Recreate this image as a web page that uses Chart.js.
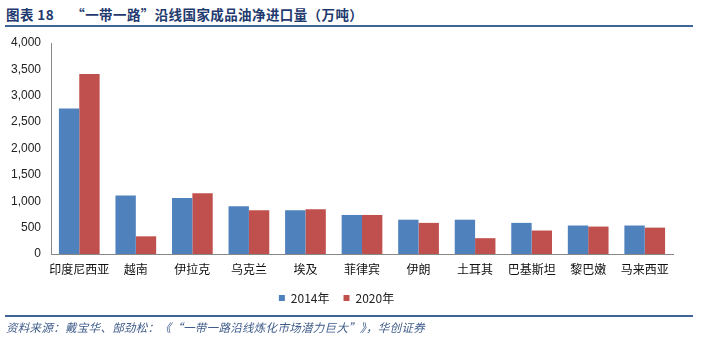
<!DOCTYPE html>
<html lang="zh">
<head>
    <meta charset="UTF-8">
    <title>"一带一路"沿线国家成品油净进口量</title>
    <script src="https://cdn.jsdelivr.net/npm/chart.js"></script>
    <style>
        body {
            margin: 0;
            background: #ffffff;
            font-family: "Noto Sans CJK SC", "Liberation Sans", sans-serif;
        }

        .page {
            position: relative;
            width: 701px;
            height: 345px;
            overflow: hidden;
        }

        .title {
            position: absolute;
            left: 6px;
            top: 4px;
            font-size: 13.5px;
            letter-spacing: 0.4px;
            font-weight: bold;
            color: #1f3a6e;
            white-space: pre;
        }

        .rule {
            position: absolute;
            left: 5px;
            width: 688px;
            height: 2px;
            background: #3f6496;
        }

        .source {
            position: absolute;
            left: 6px;
            top: 319px;
            font-size: 11.5px;
            letter-spacing: 0.3px;
            font-style: italic;
            color: #3f5c8a;
        }

        #chart-box {
            position: absolute;
            left: 0;
            top: 0;
            width: 701px;
            height: 345px;
        }
    </style>
</head>
<body>

<div class="page">
    <div class="title">图表 18     “一带一路”沿线国家成品油净进口量（万吨）</div>
    <div class="rule" style="top: 25px;"></div>
    <div id="chart-box">
        <canvas id="importChart"></canvas>
    </div>
    <div class="rule" style="top: 315px;"></div>
    <div class="source">资料来源：戴宝华、郜劲松：《“一带一路沿线炼化市场潜力巨大”》，华创证券</div>
</div>

<script>
    // Countries and net imports (10k tonnes)
    const countries = ['印度尼西亚', '越南', '伊拉克', '乌克兰', '埃及', '菲律宾', '伊朗', '土耳其', '巴基斯坦', '黎巴嫩', '马来西亚'];
    const imports2014 = [2760, 1110, 1060, 905, 830, 740, 650, 650, 590, 540, 540];
    const imports2020 = [3410, 335, 1150, 830, 850, 740, 590, 300, 445, 520, 500];
    const yTicks = [0, 500, 1000, 1500, 2000, 2500, 3000, 3500, 4000];

    const ctx = document.getElementById('importChart').getContext('2d');
    new Chart(ctx, {
        type: 'bar',
        data: {
            labels: countries,
            datasets: [
                {
                    label: '2014年',
                    data: imports2014,
                    backgroundColor: '#4f81bd'
                },
                {
                    label: '2020年',
                    data: imports2020,
                    backgroundColor: '#c0504d'
                }
            ]
        },
        options: {
            responsive: true,
            maintainAspectRatio: false,
            animation: false,
            layout: {
                padding: { left: 0, right: 28, top: 43, bottom: 31 }
            },
            datasets: {
                bar: {
                    categoryPercentage: 0.72,
                    barPercentage: 1.0
                }
            },
            plugins: {
                legend: {
                    position: 'bottom',
                    labels: {
                        boxWidth: 6,
                        boxHeight: 6,
                        padding: 14,
                        color: '#222',
                        font: { size: 12, family: '"Noto Sans CJK SC", "Liberation Sans", sans-serif' }
                    }
                },
                tooltip: { enabled: false }
            },
            scales: {
                x: {
                    grid: { display: false, drawTicks: false },
                    border: { color: '#888', width: 1 },
                    ticks: {
                        color: '#111',
                        padding: 8,
                        maxRotation: 0,
                        autoSkip: false,
                        font: { size: 12, family: '"Noto Sans CJK SC", sans-serif' }
                    },
                    afterFit: (scale) => { scale.height = 24; }
                },
                y: {
                    min: 0,
                    max: 4000,
                    afterBuildTicks: (scale) => {
                        scale.ticks = yTicks.map(v => ({ value: v }));
                    },
                    grid: { display: false, drawTicks: false },
                    border: { color: '#888', width: 1 },
                    ticks: {
                        color: '#222',
                        padding: 10,
                        font: { size: 12, family: '"Liberation Sans", Arial, sans-serif' },
                        callback: (v) => v.toLocaleString('en-US')
                    },
                    afterFit: (scale) => { scale.width = 51; }
                }
            }
        }
    });
</script>

</body>
</html>
